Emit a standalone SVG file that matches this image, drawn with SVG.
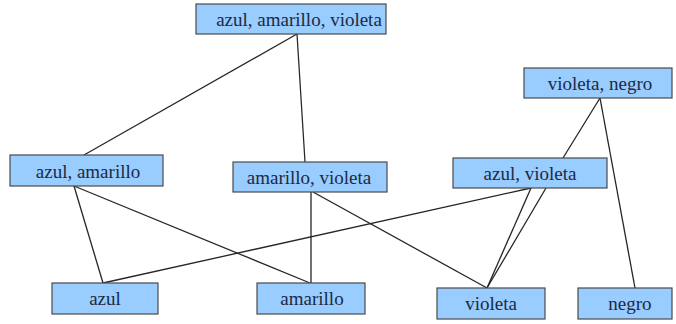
<svg xmlns="http://www.w3.org/2000/svg" width="676" height="324" viewBox="0 0 676 324">
<style>
.box{fill:#99ccff;stroke:#4a4a4a;stroke-width:1.2}
.lbl{font-family:"Liberation Serif","Times New Roman",serif;font-size:19px;fill:#1c2a44;text-anchor:middle}
.edge{stroke:#262626;stroke-width:1.3;fill:none}
</style>
<rect width="676" height="324" fill="#ffffff"/>
<g id="connectors">
<line class="edge" x1="297" y1="34" x2="84" y2="155"/>
<line class="edge" x1="297" y1="34" x2="305" y2="162"/>
<line class="edge" x1="74" y1="186" x2="103" y2="283"/>
<line class="edge" x1="74" y1="186" x2="310" y2="283"/>
<line class="edge" x1="103" y1="283" x2="531" y2="188"/>
<line class="edge" x1="311" y1="192" x2="311" y2="283"/>
<line class="edge" x1="313" y1="192" x2="487" y2="288"/>
<line class="edge" x1="487" y1="288" x2="531" y2="188"/>
<line class="edge" x1="487" y1="288" x2="546" y2="188"/>
<line class="edge" x1="600" y1="98" x2="563" y2="158"/>
<line class="edge" x1="600" y1="98" x2="635" y2="288"/>
</g>
<g id="n-azul-amarillo-violeta">
<rect class="box" x="196" y="4" width="190" height="30"/>
<text class="lbl" x="299" y="26">azul, amarillo, violeta</text>
</g>
<g id="n-azul-amarillo">
<rect class="box" x="10" y="155" width="153" height="31"/>
<text class="lbl" x="88" y="178">azul, amarillo</text>
</g>
<g id="n-amarillo-violeta">
<rect class="box" x="233" y="162" width="154" height="30"/>
<text class="lbl" x="309" y="184">amarillo, violeta</text>
</g>
<g id="n-violeta-negro">
<rect class="box" x="524" y="68" width="148" height="30"/>
<text class="lbl" x="600" y="90">violeta, negro</text>
</g>
<g id="n-azul-violeta">
<rect class="box" x="453" y="158" width="154" height="30"/>
<text class="lbl" x="530" y="180">azul, violeta</text>
</g>
<g id="n-azul">
<rect class="box" x="52" y="283" width="106" height="31"/>
<text class="lbl" x="105" y="305">azul</text>
</g>
<g id="n-amarillo">
<rect class="box" x="257" y="283" width="108" height="31"/>
<text class="lbl" x="312" y="305">amarillo</text>
</g>
<g id="n-violeta">
<rect class="box" x="437" y="288" width="108" height="31"/>
<text class="lbl" x="491" y="310">violeta</text>
</g>
<g id="n-negro">
<rect class="box" x="578" y="288" width="94" height="31"/>
<text class="lbl" x="630" y="310">negro</text>
</g>
</svg>
